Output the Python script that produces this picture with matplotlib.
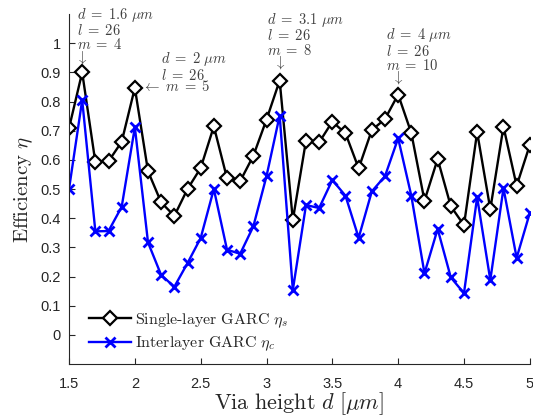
import numpy as np
import matplotlib
matplotlib.use("Agg")
import matplotlib.pyplot as plt

plt.rcParams['mathtext.fontset'] = 'cm'
plt.rcParams['font.family'] = ['Liberation Sans', 'DejaVu Sans']

# via height d [um]
d = [1.5, 1.6, 1.7, 1.8, 1.9, 2.0, 2.1, 2.2, 2.3, 2.4, 2.5, 2.6, 2.7, 2.8, 2.9, 3.0,
     3.1, 3.2, 3.3, 3.4, 3.5, 3.6, 3.7, 3.8, 3.9, 4.0, 4.1, 4.2, 4.3, 4.4, 4.5, 4.6,
     4.7, 4.8, 4.9, 5.0]
eta_s = [0.709, 0.900, 0.592, 0.595, 0.662, 0.847, 0.561, 0.454, 0.408, 0.500, 0.572, 0.715,
         0.537, 0.527, 0.614, 0.738, 0.872, 0.394, 0.666, 0.660, 0.731, 0.691, 0.571, 0.702,
         0.740, 0.824, 0.692, 0.460, 0.603, 0.441, 0.376, 0.695, 0.431, 0.714, 0.511, 0.651]
eta_c = [0.500, 0.805, 0.355, 0.356, 0.439, 0.712, 0.317, 0.205, 0.165, 0.246, 0.332, 0.500,
         0.292, 0.278, 0.372, 0.544, 0.752, 0.154, 0.445, 0.435, 0.531, 0.477, 0.333, 0.492,
         0.544, 0.674, 0.477, 0.211, 0.363, 0.197, 0.143, 0.472, 0.188, 0.503, 0.264, 0.418]

gray = '#262626'
agray = '#404040'

fig = plt.figure(figsize=(5.33, 4.18), dpi=100)
ax = fig.add_axes([0.1295, 0.129, 0.8645, 0.8375])

ax.plot(d, eta_s, '-', color='k', lw=1.7, marker='D', ms=7, mfc='white', mec='k', mew=1.6,
        label=r'$\mathrm{Single\text{-}layer\ GARC}\ \eta_s$')
ax.plot(d, eta_c, '-', color='#0000ff', lw=1.7, marker='x', ms=7, mew=2,
        label=r'$\mathrm{Interlayer\ GARC}\ \eta_c$')

ax.set_xlim(1.5, 5)
ax.set_ylim(-0.1, 1.1)
ax.set_xticks([1.5, 2, 2.5, 3, 3.5, 4, 4.5, 5])
ax.set_xticklabels(['1.5', '2', '2.5', '3', '3.5', '4', '4.5', '5'])
ax.set_yticks(np.arange(0, 1.01, 0.1))
ax.set_yticklabels(['0', '0.1', '0.2', '0.3', '0.4', '0.5', '0.6', '0.7', '0.8', '0.9', '1'])
for s in ['top', 'right']:
    ax.spines[s].set_visible(False)
for s in ['left', 'bottom']:
    ax.spines[s].set_color(gray)
    ax.spines[s].set_linewidth(0.8)
ax.tick_params(direction='in', length=4, width=0.8, colors=gray, labelsize=10.5)
ax.tick_params(axis='x', pad=9)
ax.tick_params(axis='y', pad=6)

ax.set_xlabel(r'$\mathrm{Via\ height}\ d\ [\mu m]$', fontsize=16, color=gray, labelpad=0)
ax.set_ylabel(r'$\mathrm{Efficiency}\ \eta$', fontsize=15, color=gray, labelpad=4)

leg = ax.legend(loc='lower left', frameon=False, fontsize=11.5, handlelength=2.6,
                handletextpad=0.25, borderaxespad=0.3, bbox_to_anchor=(0.02, 0.0),
                labelspacing=0.3)
for t in leg.get_texts():
    t.set_color(gray)

tk = dict(fontsize=10.5, color=agray, ha='left', va='top', textcoords='offset points',
          linespacing=0.95)
ar = dict(fontsize=10.5, color=agray, ha='center', va='center', textcoords='offset points')

ax.annotate(r'$d\;=\;1.6\ \mu m$' + '\n' + r'$l\;=\;26$' + '\n' + r'$m\;=\;4$',
            xy=(1.6, eta_s[1]), xytext=(-4, 48), **tk)
ax.annotate(r'$\downarrow$', xy=(1.6, eta_s[1]), xytext=(0, 11), **ar)

ax.annotate(r'$d\;=\;2\ \mu m$' + '\n' + r'$l\;=\;26$', xy=(2.0, eta_s[5]),
            xytext=(18.7, 27), **tk)
ax.annotate(r'$\leftarrow\;m\;=\;5$', xy=(2.0, eta_s[5]), xytext=(4.8, 1.2),
            fontsize=10.5, color=agray, ha='left', va='center', textcoords='offset points')

ax.annotate(r'$d\;=\;3.1\ \mu m$' + '\n' + r'$l\;=\;26$' + '\n' + r'$m\;=\;8$',
            xy=(3.1, eta_s[16]), xytext=(-9, 50), **tk)
ax.annotate(r'$\downarrow$', xy=(3.1, eta_s[16]), xytext=(0, 12.7), **ar)

ax.annotate(r'$d\;=\;4\ \mu m$' + '\n' + r'$l\;=\;26$' + '\n' + r'$m\;=\;10$',
            xy=(4.0, eta_s[25]), xytext=(-8.6, 49), **tk)
ax.annotate(r'$\downarrow$', xy=(4.0, eta_s[25]), xytext=(0, 12), **ar)

fig.savefig('out.png', dpi=100)
